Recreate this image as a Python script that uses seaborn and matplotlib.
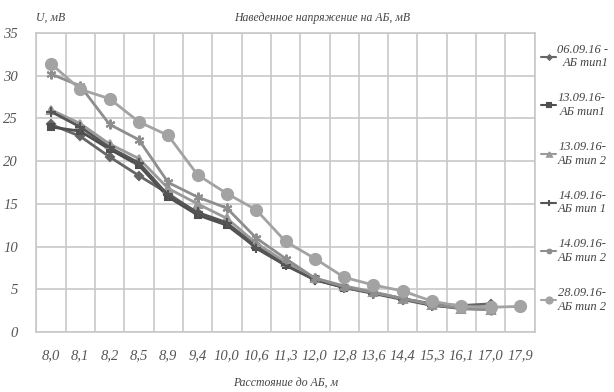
import pandas as pd
import seaborn as sns
import matplotlib.pyplot as plt

distances = ["8,0", "8,1", "8,2", "8,5", "8,9", "9,4", "10,0", "10,6", "11,3",
             "12,0", "12,8", "13,6", "14,4", "15,3", "16,1", "17,0", "17,9"]

s_0609_t1 = [24.3, 22.9, 20.5, 18.3, 16.2, 13.9, 12.7, 10.2, 8.0, 6.1, 5.3, 4.6, 3.9, 3.3, 3.1, 3.3]
s_1309_t1 = [24.0, 23.5, 21.4, 19.5, 15.8, 13.7, 12.5, 9.9, 7.9, 6.2, 5.2, 4.6, 3.9, 3.2, 2.9, 2.8]
s_1309_t2 = [26.0, 24.4, 22.0, 20.3, 16.8, 15.0, 13.3, 10.4, 8.2, 6.3, 5.4, 4.7, 3.9, 3.2, 2.7, 2.6]
s_1409_t1 = [25.8, 24.0, 21.6, 19.8, 16.0, 14.0, 12.8, 9.8, 7.8, 6.1, 5.2, 4.5, 3.8, 3.1, 2.8, 2.7]
s_1409_t2 = [30.2, 28.8, 24.3, 22.5, 17.5, 15.8, 14.5, 11.0, 8.6, 6.3, 5.3, 4.6, 3.9, 3.2, 2.8, 2.6]
s_2809_t2 = [31.4, 28.4, 27.3, 24.6, 23.0, 18.4, 16.2, 14.3, 10.6, 8.6, 6.4, 5.5, 4.8, 3.6, 3.0, 2.9, 3.0]

labels = ["06.09.16 -\nАБ тип1", "13.09.16-\nАБ тип1", "13.09.16-\nАБ тип 2",
          "14.09.16-\nАБ тип 1", "14.09.16-\nАБ тип 2", "28.09.16-\nАБ тип 2"]
series = [s_0609_t1, s_1309_t1, s_1309_t2, s_1409_t1, s_1409_t2, s_2809_t2]

# стилі серій (сірі відтінки як в оригіналі)
colors = ["#666666", "#4f4f4f", "#9a9a9a", "#555555", "#8e8e8e", "#a3a3a3"]
markers = ["D", "s", "^", "+", (6, 2, 0), "o"]
msizes = [4, 5, 6, 7, 7, 8]

rows = []
for lab, vals in zip(labels, series):
    for d, v in zip(distances, vals):
        rows.append({"Расстояние": d, "U": v, "Серия": lab})
df = pd.DataFrame(rows)

sns.set_style("white")
plt.rcParams["font.family"] = ["Liberation Serif", "DejaVu Serif"]
txt = dict(fontstyle="italic", color="#444444")

fig = plt.figure(figsize=(6.14, 3.92), dpi=100)
ax = fig.add_axes([0.059, 0.153, 0.812, 0.763])

for lab, c, m, ms in zip(labels, colors, markers, msizes):
    sub = df[df["Серия"] == lab]
    sns.lineplot(data=sub, x="Расстояние", y="U", ax=ax, color=c, marker=m,
                 markersize=ms, markeredgecolor=c, markeredgewidth=1.5,
                 linewidth=2, sort=False, label=lab)

ax.set_xlim(-0.5, len(distances) - 0.5)
ax.set_ylim(0, 35)
ax.set_yticks(range(0, 36, 5))
ax.set_xticks(range(len(distances)))
ax.set_xticklabels(distances)
ax.set_xticks([i - 0.5 for i in range(len(distances) + 1)], minor=True)
ax.grid(False)
ax.grid(True, which="minor", axis="x", color="#c8c8c8", linewidth=1.2)
ax.grid(True, which="major", axis="y", color="#c8c8c8", linewidth=1.2)
ax.set_axisbelow(True)
ax.tick_params(axis="x", which="major", length=0, pad=12, labelsize=10.5, colors="#555555")
ax.tick_params(axis="x", which="minor", length=5, color="#c8c8c8", width=1.2)
ax.tick_params(axis="y", length=5, color="#c8c8c8", width=1.2, labelsize=10.5,
               colors="#555555", pad=8)
for lbl in ax.get_xticklabels() + ax.get_yticklabels():
    lbl.set_fontstyle("italic")
for sp in ax.spines.values():
    sp.set_color("#c8c8c8")
    sp.set_linewidth(1.2)
ax.set_xlabel("")
ax.set_ylabel("")

fig.text(0.525, 0.955, "Наведенное напряжение на АБ, мВ", ha="center", va="center",
         fontsize=8.5, **txt)
fig.text(0.058, 0.955, "U, мВ", ha="left", va="center", fontsize=8.5, **txt)
fig.text(0.465, 0.022, "Расстояние до АБ, м", ha="center", va="center",
         fontsize=8.5, **txt)

leg = ax.legend(loc="upper left", bbox_to_anchor=(1.0, 0.985), frameon=False,
                fontsize=9, handlelength=1.2, handletextpad=0.1, markerscale=0.55,
                labelspacing=1.83, borderaxespad=0.1)
for t in leg.get_texts():
    t.set_multialignment("right")
    t.set_fontstyle("italic")
    t.set_color("#444444")
for h in leg.get_lines():
    h.set_linewidth(1.5)

fig.savefig("out.png", dpi=100)
